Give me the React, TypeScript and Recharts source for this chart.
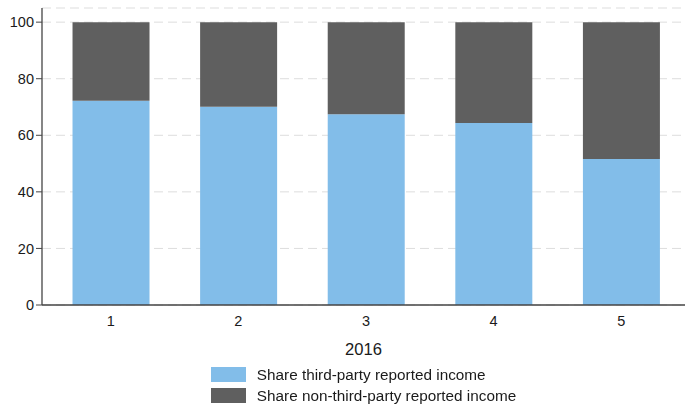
import React from "react";
import { BarChart, Bar, XAxis, YAxis, CartesianGrid, Legend, Label } from "recharts";

const categories = ["1", "2", "3", "4", "5"];
const thirdParty = [72.2, 70.1, 67.4, 64.3, 51.6];
const nonThirdParty = thirdParty.map((v) => 100 - v);
const yTicks = [0, 20, 40, 60, 80, 100];
const xTitle = "2016";
const seriesNames = ["Share third-party reported income", "Share non-third-party reported income"];
const colors = ["#82BDE9", "#5F5F5F"];

const data = categories.map((c, i) => ({
  cat: c,
  third: thirdParty[i],
  nonThird: nonThirdParty[i],
}));

const FONT = "'Liberation Sans', Arial, sans-serif";

const LegendContent = () => (
  <div style={{ display: "flex", justifyContent: "center", width: 643, height: 42, marginLeft: 42 }}>
    <div style={{ display: "flex", flexDirection: "column", alignItems: "flex-start" }}>
      {seriesNames.map((n, i) => (
        <div key={n} style={{ display: "flex", alignItems: "center", height: 21 }}>
          <div style={{ width: 35, height: 15, background: colors[i], marginRight: 11 }} />
          <span style={{ fontFamily: FONT, fontSize: 15.3, color: "#1a1a1a", lineHeight: "21px" }}>{n}</span>
        </div>
      ))}
    </div>
  </div>
);

export default function App() {
  return (
    <div style={{ position: "fixed", top: 0, left: 0, width: 685, height: 404, background: "#fff" }}>
      <BarChart
        width={685}
        height={404}
        data={data}
        margin={{ top: 8, right: 0, bottom: 0, left: 0 }}
        barCategoryGap="20%"
      >
        <CartesianGrid vertical={false} stroke="#dddddd" strokeDasharray="9 5" />
        <XAxis
          dataKey="cat"
          height={57}
          padding={{ left: 5, right: 0 }}
          tickLine={false}
          tickSize={6}
          tickMargin={5}
          axisLine={{ stroke: "#444", strokeWidth: 1.3 }}
          tick={{ fontSize: 14.5, fill: "#1a1a1a", fontFamily: FONT }}
        >
          <Label value={xTitle} position="insideBottom" offset={7} style={{ fontSize: 16.6, fill: "#1a1a1a", fontFamily: FONT }} />
        </XAxis>
        <YAxis
          width={42}
          domain={[0, 105]}
          ticks={yTicks}
          allowDataOverflow
          tickSize={6}
          tickMargin={2}
          tickLine={{ stroke: "#444" }}
          axisLine={{ stroke: "#444", strokeWidth: 1.3 }}
          tick={{ fontSize: 14.5, fill: "#1a1a1a", fontFamily: FONT }}
        />
        <Legend
          verticalAlign="bottom"
          content={<LegendContent />}
          wrapperStyle={{ position: "absolute", top: 364, left: 0, width: 685, height: 42 }}
        />
        <Bar dataKey="third" stackId="a" fill={colors[0]} name={seriesNames[0]} isAnimationActive={false} />
        <Bar dataKey="nonThird" stackId="a" fill={colors[1]} name={seriesNames[1]} isAnimationActive={false} />
      </BarChart>
    </div>
  );
}
